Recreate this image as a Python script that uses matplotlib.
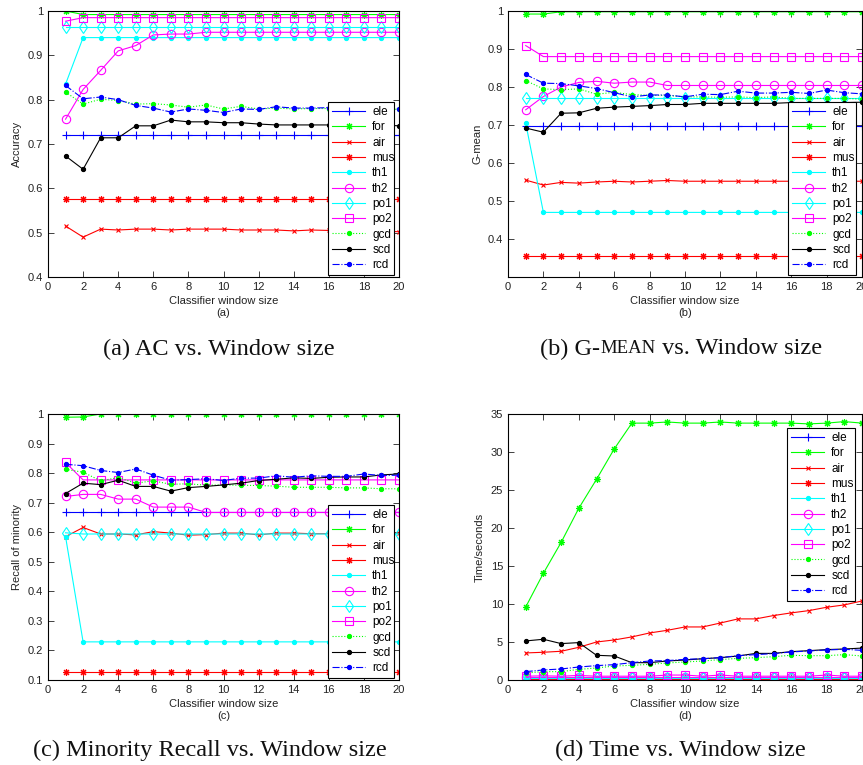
import matplotlib
matplotlib.use("Agg")
import matplotlib.pyplot as plt
from matplotlib.ticker import FuncFormatter

plt.rcParams['font.family'] = ['Liberation Sans', 'DejaVu Sans']

win = [1, 2, 3, 4, 5, 6, 7, 8, 9, 10, 11, 12, 13, 14, 15, 16, 17, 18, 19, 20]
names = ['ele', 'for', 'air', 'mus', 'th1', 'th2', 'po1', 'po2', 'gcd', 'scd', 'rcd']

# (a) accuracy
acc = {
    'ele': [0.72, 0.72, 0.72, 0.72, 0.72, 0.72, 0.72, 0.72, 0.72, 0.72, 0.72, 0.72, 0.72, 0.72, 0.72, 0.72, 0.72, 0.72, 0.72, 0.72],
    'for': [1.0, 0.992, 0.992, 0.992, 0.992, 0.992, 0.992, 0.992, 0.992, 0.992, 0.992, 0.992, 0.992, 0.992, 0.992, 0.992, 0.992, 0.992, 0.992, 0.992],
    'air': [0.515, 0.490, 0.508, 0.506, 0.508, 0.508, 0.506, 0.508, 0.508, 0.508, 0.506, 0.506, 0.506, 0.504, 0.506, 0.505, 0.505, 0.505, 0.504, 0.502],
    'mus': [0.575, 0.575, 0.575, 0.575, 0.575, 0.575, 0.575, 0.575, 0.575, 0.575, 0.575, 0.575, 0.575, 0.575, 0.575, 0.575, 0.575, 0.575, 0.575, 0.575],
    'th1': [0.835, 0.94, 0.94, 0.94, 0.94, 0.94, 0.94, 0.94, 0.94, 0.94, 0.94, 0.94, 0.94, 0.94, 0.94, 0.94, 0.94, 0.94, 0.94, 0.94],
    'th2': [0.756, 0.823, 0.866, 0.910, 0.922, 0.946, 0.948, 0.948, 0.952, 0.952, 0.952, 0.952, 0.952, 0.952, 0.952, 0.952, 0.952, 0.952, 0.952, 0.952],
    'po1': [0.963, 0.963, 0.963, 0.963, 0.963, 0.963, 0.963, 0.963, 0.963, 0.963, 0.963, 0.963, 0.963, 0.963, 0.963, 0.963, 0.963, 0.963, 0.963, 0.963],
    'po2': [0.977, 0.985, 0.985, 0.985, 0.985, 0.985, 0.985, 0.985, 0.985, 0.985, 0.985, 0.985, 0.985, 0.985, 0.985, 0.985, 0.985, 0.985, 0.985, 0.985],
    'gcd': [0.817, 0.790, 0.801, 0.798, 0.790, 0.791, 0.788, 0.783, 0.788, 0.779, 0.785, 0.779, 0.781, 0.779, 0.780, 0.780, 0.780, 0.780, 0.780, 0.778],
    'scd': [0.673, 0.643, 0.714, 0.714, 0.741, 0.741, 0.754, 0.750, 0.750, 0.748, 0.748, 0.745, 0.743, 0.743, 0.743, 0.743, 0.743, 0.743, 0.743, 0.741],
    'rcd': [0.832, 0.802, 0.806, 0.800, 0.787, 0.781, 0.772, 0.779, 0.776, 0.771, 0.779, 0.778, 0.784, 0.781, 0.781, 0.782, 0.780, 0.780, 0.780, 0.779],
}

# (b) g-mean
gmean = {
    'ele': [0.697, 0.697, 0.697, 0.697, 0.697, 0.697, 0.697, 0.697, 0.697, 0.697, 0.697, 0.697, 0.697, 0.697, 0.697, 0.697, 0.697, 0.697, 0.697, 0.697],
    'for': [0.992, 0.992, 0.998, 0.998, 0.998, 0.998, 0.998, 0.998, 0.998, 0.998, 0.998, 0.998, 0.998, 0.998, 0.998, 0.998, 0.998, 0.998, 0.998, 0.998],
    'air': [0.555, 0.542, 0.549, 0.547, 0.550, 0.552, 0.550, 0.552, 0.554, 0.552, 0.552, 0.552, 0.552, 0.552, 0.552, 0.552, 0.552, 0.552, 0.552, 0.552],
    'mus': [0.354, 0.354, 0.354, 0.354, 0.354, 0.354, 0.354, 0.354, 0.354, 0.354, 0.354, 0.354, 0.354, 0.354, 0.354, 0.354, 0.354, 0.354, 0.354, 0.354],
    'th1': [0.705, 0.470, 0.470, 0.470, 0.470, 0.470, 0.470, 0.470, 0.470, 0.470, 0.470, 0.470, 0.470, 0.470, 0.470, 0.470, 0.470, 0.470, 0.470, 0.470],
    'th2': [0.740, 0.775, 0.800, 0.812, 0.815, 0.810, 0.813, 0.813, 0.804, 0.804, 0.804, 0.804, 0.804, 0.804, 0.804, 0.804, 0.804, 0.804, 0.804, 0.804],
    'po1': [0.772, 0.772, 0.772, 0.772, 0.772, 0.772, 0.772, 0.772, 0.772, 0.772, 0.772, 0.772, 0.772, 0.772, 0.772, 0.772, 0.772, 0.772, 0.772, 0.772],
    'po2': [0.909, 0.880, 0.880, 0.880, 0.880, 0.880, 0.880, 0.880, 0.880, 0.880, 0.880, 0.880, 0.880, 0.880, 0.880, 0.880, 0.880, 0.880, 0.880, 0.880],
    'gcd': [0.817, 0.795, 0.793, 0.795, 0.781, 0.786, 0.780, 0.778, 0.778, 0.774, 0.774, 0.773, 0.774, 0.772, 0.774, 0.770, 0.770, 0.770, 0.770, 0.768],
    'scd': [0.692, 0.681, 0.731, 0.732, 0.744, 0.747, 0.749, 0.751, 0.754, 0.754, 0.757, 0.757, 0.757, 0.757, 0.757, 0.759, 0.759, 0.759, 0.759, 0.760],
    'rcd': [0.833, 0.810, 0.809, 0.803, 0.796, 0.785, 0.774, 0.779, 0.779, 0.774, 0.781, 0.780, 0.789, 0.784, 0.784, 0.786, 0.783, 0.792, 0.785, 0.782],
}

# (c) recall of minority
recall = {
    'ele': [0.667, 0.667, 0.667, 0.667, 0.667, 0.667, 0.667, 0.667, 0.667, 0.667, 0.667, 0.667, 0.667, 0.667, 0.667, 0.667, 0.667, 0.667, 0.667, 0.667],
    'for': [0.989, 0.990, 1.0, 1.0, 1.0, 1.0, 1.0, 1.0, 1.0, 1.0, 1.0, 1.0, 1.0, 1.0, 1.0, 1.0, 1.0, 1.0, 1.0, 1.0],
    'air': [0.585, 0.616, 0.594, 0.594, 0.591, 0.602, 0.597, 0.590, 0.592, 0.597, 0.597, 0.591, 0.597, 0.597, 0.595, 0.595, 0.595, 0.595, 0.595, 0.597],
    'mus': [0.126, 0.126, 0.126, 0.126, 0.126, 0.126, 0.126, 0.126, 0.126, 0.126, 0.126, 0.126, 0.126, 0.126, 0.126, 0.126, 0.126, 0.126, 0.126, 0.126],
    'th1': [0.585, 0.229, 0.229, 0.229, 0.229, 0.229, 0.229, 0.229, 0.229, 0.229, 0.229, 0.229, 0.229, 0.229, 0.229, 0.229, 0.229, 0.229, 0.229, 0.229],
    'th2': [0.721, 0.728, 0.728, 0.712, 0.712, 0.685, 0.685, 0.685, 0.667, 0.667, 0.667, 0.667, 0.667, 0.667, 0.667, 0.667, 0.667, 0.667, 0.667, 0.667],
    'po1': [0.598, 0.594, 0.594, 0.594, 0.594, 0.594, 0.594, 0.594, 0.594, 0.594, 0.594, 0.594, 0.594, 0.594, 0.594, 0.594, 0.594, 0.594, 0.594, 0.594],
    'po2': [0.836, 0.777, 0.777, 0.777, 0.777, 0.777, 0.777, 0.777, 0.777, 0.777, 0.777, 0.777, 0.777, 0.777, 0.777, 0.777, 0.777, 0.777, 0.777, 0.777],
    'gcd': [0.813, 0.803, 0.774, 0.785, 0.766, 0.774, 0.762, 0.764, 0.759, 0.760, 0.759, 0.758, 0.756, 0.752, 0.752, 0.752, 0.750, 0.750, 0.747, 0.747],
    'scd': [0.731, 0.766, 0.761, 0.776, 0.755, 0.755, 0.739, 0.751, 0.755, 0.760, 0.766, 0.775, 0.779, 0.784, 0.782, 0.786, 0.787, 0.787, 0.794, 0.797],
    'rcd': [0.830, 0.825, 0.809, 0.802, 0.814, 0.793, 0.776, 0.778, 0.781, 0.775, 0.783, 0.783, 0.791, 0.786, 0.791, 0.789, 0.789, 0.797, 0.792, 0.793],
}

# (d) time in seconds
timing = {
    'ele': [0.05, 0.05, 0.05, 0.05, 0.05, 0.05, 0.05, 0.05, 0.05, 0.05, 0.05, 0.05, 0.05, 0.05, 0.05, 0.05, 0.05, 0.05, 0.05, 0.05],
    'for': [9.6, 14.05, 18.1, 22.6, 26.4, 30.4, 33.8, 33.8, 33.95, 33.8, 33.8, 33.95, 33.8, 33.8, 33.8, 33.8, 33.7, 33.8, 34.0, 33.8],
    'air': [3.56, 3.65, 3.78, 4.3, 5.0, 5.27, 5.67, 6.19, 6.54, 6.98, 6.98, 7.5, 8.04, 8.04, 8.48, 8.83, 9.13, 9.57, 9.88, 10.4],
    'mus': [0.1, 0.1, 0.1, 0.1, 0.1, 0.1, 0.1, 0.1, 0.1, 0.1, 0.1, 0.1, 0.1, 0.1, 0.1, 0.1, 0.1, 0.1, 0.1, 0.1],
    'th1': [0.2, 0.2, 0.2, 0.2, 0.2, 0.2, 0.2, 0.2, 0.2, 0.2, 0.2, 0.2, 0.2, 0.2, 0.2, 0.2, 0.2, 0.2, 0.2, 0.2],
    'th2': [0.35, 0.35, 0.35, 0.35, 0.35, 0.35, 0.35, 0.35, 0.35, 0.35, 0.35, 0.35, 0.35, 0.35, 0.35, 0.35, 0.35, 0.35, 0.35, 0.35],
    'po1': [0.3, 0.3, 0.3, 0.3, 0.3, 0.3, 0.3, 0.3, 0.3, 0.3, 0.3, 0.3, 0.3, 0.3, 0.3, 0.3, 0.3, 0.3, 0.3, 0.3],
    'po2': [0.5, 0.55, 0.5, 0.6, 0.5, 0.5, 0.5, 0.5, 0.65, 0.65, 0.5, 0.65, 0.5, 0.5, 0.5, 0.5, 0.5, 0.65, 0.5, 0.5],
    'gcd': [0.92, 1.1, 1.1, 1.4, 1.58, 1.84, 1.93, 2.06, 2.24, 2.37, 2.5, 2.68, 2.85, 2.94, 3.07, 3.25, 3.2, 3.2, 3.34, 3.16],
    'scd': [5.14, 5.36, 4.79, 4.92, 3.25, 3.16, 2.28, 2.28, 2.5, 2.63, 2.8, 2.94, 3.16, 3.5, 3.5, 3.73, 3.86, 4.0, 4.08, 4.2],
    'rcd': [1.1, 1.32, 1.45, 1.71, 1.89, 2.02, 2.28, 2.5, 2.55, 2.72, 2.8, 2.94, 3.2, 3.34, 3.47, 3.69, 3.82, 3.95, 4.04, 3.9],
}

ast = (8, 2, 0)
styles = {
    'ele': dict(color='#0000ff', ls='-', marker='+', ms=6),
    'for': dict(color='#00ff00', ls='-', marker=ast, ms=5),
    'air': dict(color='#ff0000', ls='-', marker='x', ms=3.5),
    'mus': dict(color='#ff0000', ls='-', marker=ast, ms=5),
    'th1': dict(color='#00ffff', ls='-', marker='o', ms=3),
    'th2': dict(color='#ff00ff', ls='-', marker='o', ms=6, mfc='none'),
    'po1': dict(color='#00ffff', ls='-', marker='d', ms=6, mfc='none'),
    'po2': dict(color='#ff00ff', ls='-', marker='s', ms=6, mfc='none'),
    'gcd': dict(color='#00ff00', ls=':', marker='o', ms=3),
    'scd': dict(color='#000000', ls='-', marker='o', ms=3),
    'rcd': dict(color='#0000ff', ls='-.', marker='o', ms=3),
}

W, H = 863, 765
fig = plt.figure(figsize=(W / 100, H / 100), dpi=100)


def panel(px, py, pw, ph, data, ylabel, sub, ylim, yticks, leg_box):
    ax = fig.add_axes([px / W, 1 - (py + ph) / H, pw / W, ph / H])
    for n in names:
        ax.plot(win, data[n], lw=0.8, mew=0.8, label=n, **styles[n])
    ax.set_xlim(0, 20)
    ax.set_ylim(*ylim)
    ax.set_xticks(range(0, 21, 2))
    ax.set_yticks(yticks)
    ax.yaxis.set_major_formatter(FuncFormatter(lambda v, p: '%g' % round(v, 3)))
    ax.tick_params(direction='in', top=True, right=True, length=4, width=0.6,
                   labelsize=8, colors='#222222')
    for s in ax.spines.values():
        s.set_linewidth(0.8)
    ax.set_ylabel(ylabel, fontsize=8, color='#222222', labelpad=4)
    ax.set_xlabel('Classifier window size\n' + sub, fontsize=8, color='#222222',
                  linespacing=1.3, labelpad=3)
    # legend box given in picture pixels (left, top, width, height)
    lx, ly, lw, lh = leg_box
    anchor = ((lx - px) / pw, 1 - (ly + lh - py) / ph, lw / pw, lh / ph)
    leg = ax.legend(loc='upper left', bbox_to_anchor=anchor, mode='expand',
                    fontsize=8.5, handlelength=2.8, labelspacing=0.28,
                    borderpad=0.35, handletextpad=0.6, borderaxespad=0,
                    fancybox=False, framealpha=1, edgecolor='black')
    leg.get_frame().set_linewidth(0.8)
    return ax


panel(48, 11, 351, 266, acc, 'Accuracy', '(a)', (0.4, 1.0),
      [0.4, 0.5, 0.6, 0.7, 0.8, 0.9, 1.0], (328, 102, 66, 170))
panel(508, 11, 354, 266, gmean, 'G-mean', '(b)', (0.3, 1.0),
      [0.4, 0.5, 0.6, 0.7, 0.8, 0.9, 1.0], (788, 102, 68, 170))
panel(48, 414, 351, 266, recall, 'Recall of minority', '(c)', (0.1, 1.0),
      [0.1, 0.2, 0.3, 0.4, 0.5, 0.6, 0.7, 0.8, 0.9, 1.0], (328, 505, 66, 171))
panel(508, 414, 354, 266, timing, 'Time/seconds', '(d)', (0, 35),
      [0, 5, 10, 15, 20, 25, 30, 35], (787, 428, 68, 170))

# captions, with small caps for MEAN
renderer = fig.canvas.get_renderer()
cap_font = dict(family=['Liberation Serif', 'DejaVu Serif'], color='#111111')


def caption(xc, yc, parts):
    texts = []
    for s, size in parts:
        texts.append(fig.text(0, 1 - yc / H, s, fontsize=size, va='center', **cap_font))
    widths = [t.get_window_extent(renderer).width for t in texts]
    x = xc - sum(widths) / 2
    for t, w in zip(texts, widths):
        t.set_x(x / W)
        x += w


caption(219, 349, [('(a) AC vs. Window size', 17.5)])
caption(681, 349, [('(b) G-', 17.5), ('MEAN', 13.5), (' vs. Window size', 17.5)])
caption(210, 750, [('(c) Minority Recall vs. Window size', 17.5)])
caption(680, 750, [('(d) Time vs. Window size', 17.5)])

fig.savefig('out.png', dpi=100)
